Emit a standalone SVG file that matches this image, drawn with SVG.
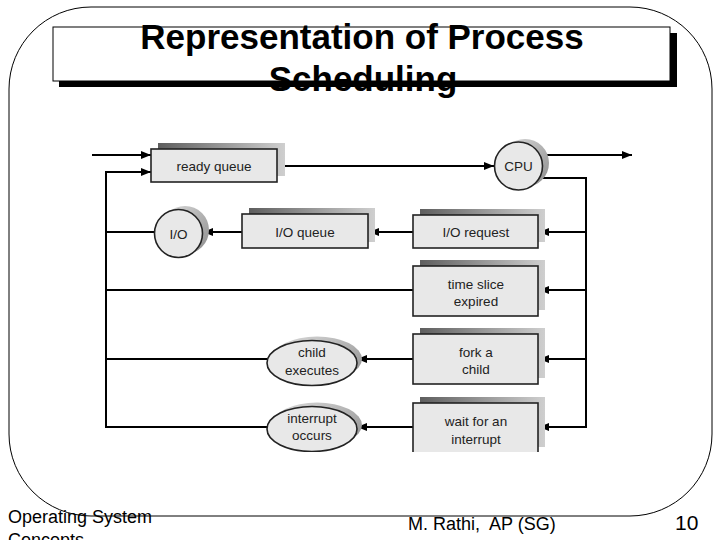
<svg xmlns="http://www.w3.org/2000/svg" width="720" height="540" viewBox="0 0 720 540">
<style>
.frame{fill:none;stroke:#000;stroke-width:1}
.title{font-family:"Liberation Sans",Arial,sans-serif;font-weight:bold;font-size:35px;fill:#000;text-anchor:middle}
.foot{font-family:"Liberation Sans",Arial,sans-serif;font-size:18px;fill:#000;white-space:pre}
.box{fill:#e8e8e8;stroke:#222;stroke-width:1.6}
.sh{fill:url(#shg)}
.csh{fill:url(#cshg)}
.lbl{font-family:"Liberation Sans",Arial,sans-serif;font-size:13.5px;fill:#222;text-anchor:middle;dominant-baseline:central}
.conn{fill:none;stroke:#000;stroke-width:2}
</style>
<defs>
<linearGradient id="shg" x1="0" y1="0" x2="1" y2="0">
<stop offset="0" stop-color="#5e5e5e"/>
<stop offset="1" stop-color="#cfcfcf"/>
</linearGradient>
<linearGradient id="cshg" x1="0" y1="0" x2="1" y2="1">
<stop offset="0" stop-color="#dcdcdc"/>
<stop offset="1" stop-color="#8c8c8c"/>
</linearGradient>
<marker id="arr" markerUnits="userSpaceOnUse" markerWidth="10" markerHeight="8" viewBox="0 0 10 8" refX="10" refY="4" orient="auto">
<path d="M0,0 L10,4 L0,8 z" fill="#000"/>
</marker>
<clipPath id="clip"><rect x="80" y="130" width="570" height="322"/></clipPath>
</defs>
<rect x="0" y="0" width="720" height="540" fill="#fff"/>
<rect class="frame" x="9" y="7" width="703" height="509" rx="82" ry="82"/>
<g id="title">
<rect x="59" y="33" width="618" height="54" fill="#000"/>
<rect x="53" y="27" width="617" height="54" fill="#fff" stroke="#000" stroke-width="1"/>
<text class="title" x="362" y="48.5">Representation of Process</text>
<text class="title" x="363" y="91">Scheduling</text>
</g>
<g clip-path="url(#clip)">
<g id="connectors">
<path class="conn" d="M92,155 H151" marker-end="url(#arr)"/>
<path class="conn" d="M267,427 H106 V172 H151" marker-end="url(#arr)"/>
<path class="conn" d="M267,359 H106"/>
<path class="conn" d="M413,290 H106"/>
<path class="conn" d="M154,232 H106"/>
<path class="conn" d="M277,166 H494" marker-end="url(#arr)"/>
<path class="conn" d="M540,155 H632" marker-end="url(#arr)"/>
<path class="conn" d="M539,178 H586 V427 H539" marker-end="url(#arr)"/>
<path class="conn" d="M586,232 H539" marker-end="url(#arr)"/>
<path class="conn" d="M586,290 H539" marker-end="url(#arr)"/>
<path class="conn" d="M586,359 H539" marker-end="url(#arr)"/>
<path class="conn" d="M413,232 H369" marker-end="url(#arr)"/>
<path class="conn" d="M242,232 H203" marker-end="url(#arr)"/>
<path class="conn" d="M413,359 H357" marker-end="url(#arr)"/>
<path class="conn" d="M413,427 H357" marker-end="url(#arr)"/>
</g>
<g id="ready-queue">
<rect class="sh" x="158" y="143" width="127" height="33"/>
<rect class="box" x="151" y="149" width="126" height="33"/>
<text class="lbl" x="214" y="166">ready queue</text>
</g>
<g id="cpu">
<circle class="csh" cx="525" cy="163" r="24"/>
<circle class="box" cx="518.5" cy="166" r="24"/>
<text class="lbl" x="518.5" y="166">CPU</text>
</g>
<g id="io">
<circle class="csh" cx="185" cy="230" r="24"/>
<circle class="box" cx="178.5" cy="233.5" r="24"/>
<text class="lbl" x="178.5" y="234">I/O</text>
</g>
<g id="io-queue">
<rect class="sh" x="249" y="208" width="126" height="34"/>
<rect class="box" x="242" y="214" width="126" height="34"/>
<text class="lbl" x="305" y="232">I/O queue</text>
</g>
<g id="io-request">
<rect class="sh" x="420" y="209" width="125" height="33"/>
<rect class="box" x="413" y="215" width="125" height="33"/>
<text class="lbl" x="476" y="232">I/O request</text>
</g>
<g id="time-slice">
<rect class="sh" x="420" y="260" width="125" height="50"/>
<rect class="box" x="413" y="266" width="125" height="50"/>
<text class="lbl" x="476" y="284">time slice</text>
<text class="lbl" x="476" y="301.5">expired</text>
</g>
<g id="fork-child">
<rect class="sh" x="420" y="328" width="125" height="50"/>
<rect class="box" x="413" y="334" width="125" height="50"/>
<text class="lbl" x="476" y="352.5">fork a</text>
<text class="lbl" x="476" y="369.5">child</text>
</g>
<g id="wait-interrupt">
<rect class="sh" x="420" y="397" width="125" height="50"/>
<rect class="box" x="413" y="403" width="125" height="50"/>
<text class="lbl" x="476" y="421.5">wait for an</text>
<text class="lbl" x="476" y="439">interrupt</text>
</g>
<g id="child-executes">
<ellipse class="csh" cx="317" cy="359" rx="45" ry="22.5"/>
<ellipse class="box" cx="312" cy="363" rx="45" ry="22.5"/>
<text class="lbl" x="312" y="352.5">child</text>
<text class="lbl" x="312" y="370">executes</text>
</g>
<g id="interrupt-occurs">
<ellipse class="csh" cx="317" cy="425" rx="45" ry="22.5"/>
<ellipse class="box" cx="312" cy="429" rx="45" ry="22.5"/>
<text class="lbl" x="312" y="418">interrupt</text>
<text class="lbl" x="312" y="435">occurs</text>
</g>
</g>
<g id="footer">
<text class="foot" x="8" y="523">Operating System</text>
<text class="foot" x="8" y="546">Concepts</text>
<text class="foot" x="408" y="530">M. Rathi,  AP (SG)</text>
<text class="foot" x="675" y="530" style="font-size:21px">10</text>
</g>
</svg>
